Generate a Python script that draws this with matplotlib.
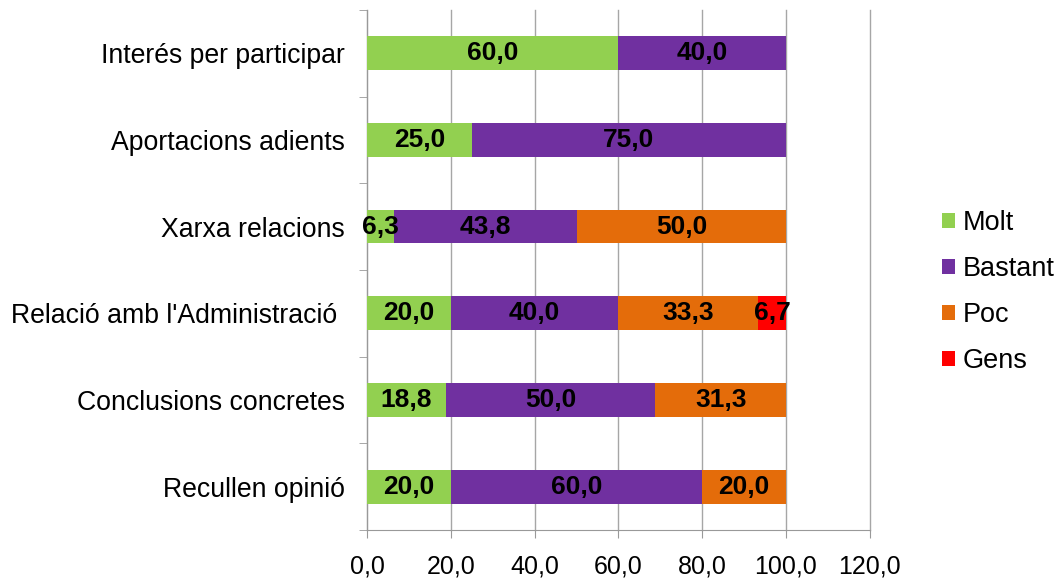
import matplotlib
matplotlib.use("Agg")
import matplotlib.pyplot as plt
import numpy as np

categories = ["Interés per participar", "Aportacions adients", "Xarxa relacions",
              "Relació amb l'Administració ", "Conclusions concretes", "Recullen opinió"]
series_names = ["Molt", "Bastant", "Poc", "Gens"]
molt = [60.0, 25.0, 6.3, 20.0, 18.8, 20.0]
bastant = [40.0, 75.0, 43.8, 40.0, 50.0, 60.0]
poc = [0.0, 0.0, 50.0, 33.3, 31.3, 20.0]
gens = [0.0, 0.0, 0.0, 6.7, 0.0, 0.0]
colors = ["#92D050", "#7030A0", "#E46C0A", "#FF0000"]
x_ticks = [0, 20, 40, 60, 80, 100, 120]

plt.rcParams['font.family'] = ['Liberation Sans', 'DejaVu Sans']

fig = plt.figure(figsize=(10.58, 5.83), dpi=100)
ax = fig.add_axes([0.347, 0.091, 0.475, 0.892])

n = len(categories)
y = np.arange(n)[::-1]
left = np.zeros(n)
for name, vals, c in zip(series_names, [molt, bastant, poc, gens], colors):
    vals = np.array(vals)
    ax.barh(y, vals, left=left, height=0.39, color=c, label=name, zorder=3)
    for yi, l, v in zip(y, left, vals):
        if v > 0:
            ax.text(l + v / 2, yi, f"{v:.1f}".replace(".", ","), ha="center", va="center",
                    fontsize=19, fontweight="bold", color="black", zorder=4)
    left = left + vals

ax.set_xlim(0, 120)
ax.set_ylim(-0.5, n - 0.5)
ax.set_xticks(x_ticks)
ax.set_xticklabels([f"{v:.1f}".replace(".", ",") for v in x_ticks], fontsize=18)
ax.set_yticks(y)
ax.set_yticklabels(categories, fontsize=19.2)
ax.tick_params(axis="y", length=0, pad=16)
ax.set_yticks(np.arange(-0.5, n, 1.0), minor=True)
ax.tick_params(axis="y", which="minor", length=6, color="#999999", direction="out")
ax.tick_params(axis="x", which="major", direction="out", length=6, color="#999999", pad=12)
ax.xaxis.grid(True, color="#A6A6A6", linewidth=1, zorder=0)
for gl in ax.get_xgridlines():
    gl.set_clip_on(False)
for s in ["top", "right"]:
    ax.spines[s].set_visible(False)
ax.spines["left"].set_color("#999999")
ax.spines["bottom"].set_color("#999999")

ax.legend(loc="center left", bbox_to_anchor=(1.123, 0.457), frameon=False, fontsize=19.5,
          handlelength=0.48, handleheight=0.48, handletextpad=0.26, labelspacing=0.74,
          borderaxespad=0)

fig.savefig("out.png", dpi=100)
